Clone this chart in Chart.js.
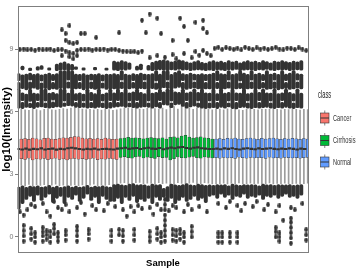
<!DOCTYPE html>
<html>
<head>
<meta charset="utf-8">
<script src="https://cdn.jsdelivr.net/npm/chart.js@4.4.1/dist/chart.umd.min.js"></script>
<style>
  html, body { margin: 0; padding: 0; background: #fff; }
  #wrap { width: 356px; height: 278px; }
</style>
</head>
<body>
<div id="wrap"><canvas id="chart" width="356" height="278"></canvas></div>
<script>
const classes = ['Cancer', 'Cirrhosis', 'Normal'];
const classCounts = [26, 25, 25];
const classColors = ['#F8766D', '#00BA38', '#619CFF'];
const yTicks = [0, 3, 6, 9];

const q3 = [
  4.70, 4.72, 4.68, 4.74, 4.71, 4.66, 4.73, 4.75, 4.70, 4.69, 4.72, 4.76, 4.74, 4.78, 4.82, 4.80, 4.74, 4.71, 4.73, 4.70, 4.72, 4.69, 4.74, 4.71, 4.68, 4.70,
  4.72, 4.75, 4.78, 4.74, 4.76, 4.73, 4.71, 4.75, 4.77, 4.74, 4.72, 4.76, 4.70, 4.78, 4.80, 4.76, 4.84, 4.88, 4.79, 4.74, 4.77, 4.80, 4.76, 4.73, 4.70,
  4.70, 4.72, 4.69, 4.73, 4.71, 4.74, 4.70, 4.68, 4.72, 4.75, 4.71, 4.69, 4.73, 4.70, 4.72, 4.74, 4.71, 4.69, 4.72, 4.70, 4.73, 4.71, 4.68, 4.72, 4.70
];
const median = [
  4.22, 4.20, 4.24, 4.19, 4.23, 4.21, 4.25, 4.20, 4.22, 4.24, 4.19, 4.23, 4.21, 4.26, 4.28, 4.25, 4.22, 4.20, 4.23, 4.21, 4.24, 4.20, 4.22, 4.23, 4.21, 4.20,
  4.24, 4.26, 4.28, 4.23, 4.25, 4.27, 4.22, 4.26, 4.28, 4.24, 4.23, 4.27, 4.21, 4.25, 4.29, 4.26, 4.30, 4.32, 4.27, 4.24, 4.28, 4.30, 4.26, 4.24, 4.22,
  4.22, 4.24, 4.21, 4.25, 4.23, 4.26, 4.22, 4.20, 4.24, 4.26, 4.23, 4.21, 4.25, 4.22, 4.24, 4.26, 4.23, 4.21, 4.24, 4.22, 4.25, 4.23, 4.20, 4.24, 4.22
];
const q1 = [
  3.76, 3.72, 3.78, 3.70, 3.75, 3.73, 3.77, 3.71, 3.74, 3.78, 3.72, 3.75, 3.70, 3.74, 3.77, 3.73, 3.76, 3.72, 3.74, 3.78, 3.71, 3.75, 3.73, 3.77, 3.74, 3.72,
  3.82, 3.85, 3.80, 3.78, 3.84, 3.86, 3.79, 3.83, 3.81, 3.77, 3.85, 3.80, 3.82, 3.70, 3.76, 3.84, 3.81, 3.79, 3.83, 3.86, 3.80, 3.78, 3.84, 3.82, 3.79,
  3.80, 3.78, 3.82, 3.79, 3.81, 3.77, 3.83, 3.80, 3.78, 3.82, 3.79, 3.81, 3.80, 3.77, 3.83, 3.79, 3.81, 3.78, 3.82, 3.80, 3.79, 3.81, 3.78, 3.80, 3.82
];
const whiskerHigh = [
  6.12, 6.10, 6.08, 6.14, 6.11, 6.06, 6.13, 6.15, 6.10, 6.09, 6.12, 6.16, 6.14, 6.18, 6.22, 6.20, 6.14, 6.11, 6.13, 6.10, 6.12, 6.09, 6.14, 6.11, 6.08, 6.10,
  6.15, 6.18, 6.20, 6.16, 6.18, 6.14, 6.12, 6.17, 6.19, 6.16, 6.12, 6.18, 6.11, 6.28, 6.26, 6.14, 6.28, 6.30, 6.20, 6.12, 6.18, 6.22, 6.16, 6.12, 6.10,
  6.12, 6.14, 6.10, 6.15, 6.12, 6.17, 6.10, 6.08, 6.13, 6.16, 6.12, 6.10, 6.14, 6.12, 6.13, 6.16, 6.12, 6.10, 6.13, 6.11, 6.15, 6.12, 6.09, 6.13, 6.11
];
const whiskerLow = [
  2.48, 2.45, 2.52, 2.44, 2.50, 2.47, 2.51, 2.45, 2.48, 2.53, 2.46, 2.49, 2.44, 2.47, 2.50, 2.46, 2.50, 2.46, 2.48, 2.53, 2.45, 2.49, 2.47, 2.51, 2.48, 2.46,
  2.58, 2.60, 2.56, 2.54, 2.60, 2.62, 2.55, 2.58, 2.57, 2.52, 2.61, 2.56, 2.58, 2.40, 2.48, 2.60, 2.57, 2.54, 2.58, 2.62, 2.56, 2.54, 2.60, 2.58, 2.55,
  2.56, 2.54, 2.58, 2.55, 2.57, 2.53, 2.59, 2.56, 2.54, 2.58, 2.55, 2.57, 2.56, 2.53, 2.59, 2.55, 2.57, 2.54, 2.58, 2.56, 2.55, 2.57, 2.54, 2.56, 2.58
];

// dense outlier stretches (overlapping points) per sample: [low, high] or [low, high, low2, high2]
const bandA = [
  [6.2,6.44,6.52,6.9],[6.18,7.1],[6.16,6.46,6.54,6.92],[6.22,6.86],[6.2,6.42,6.5,7.1],[6.16,6.9],[6.22,6.46,6.54,6.88],[6.24,7.1],[6.2,6.44,6.52,7.1],[6.18,6.9],[6.2,6.48,6.56,6.94],[6.24,6.88],[6.22,7.1],[6.26,6.44,6.52,7.1],[6.3,6.9],[6.28,7.1],[6.22,6.46,6.54,6.88],[6.2,6.92],[6.22,6.44,6.52,6.86],[6.18,7.1],[6.2,6.46,6.54,6.94],[6.18,6.88],[6.22,7.1],[6.2,6.44,6.52,6.86],[6.16,6.92],[6.18,6.46,6.54,7.1],
  [6.22,6.92],[6.24,6.46,6.54,7.1],[6.26,6.94],[6.22,7.1],[6.24,6.44,6.52,6.92],[6.2,6.96],[6.18,6.46,6.54,7.1],[6.22,6.94],[6.24,6.88],[6.22,6.44,6.52,7.1],[6.18,6.9],[6.24,6.94],[6.18,6.46,6.54,7.1],[6.34,6.96],[6.32,7.1],[6.2,6.44,6.52,7.1],[6.34,6.96],[6.36,6.94],[6.26,7.1],[6.18,6.46,6.54,6.92],[6.24,6.96],[6.28,7.1],[6.22,6.44,6.52,6.94],[6.18,7.1],[6.16,6.92],
  [6.18,6.44,6.52,6.9],[6.2,7.1],[6.16,6.46,6.54,6.88],[6.22,7.1],[6.18,6.9],[6.24,6.44,6.52,6.94],[6.16,7.1],[6.14,6.46,6.54,6.92],[6.2,6.9],[6.22,7.1],[6.18,6.44,6.52,6.88],[6.16,6.92],[6.2,7.1],[6.18,6.46,6.54,6.94],[6.2,7.1],[6.22,6.92],[6.18,6.44,6.52,6.9],[6.16,7.1],[6.2,6.88],[6.18,6.46,6.54,6.92],[6.22,7.1],[6.18,6.94],[6.16,6.44,6.52,6.88],[6.2,7.1],[6.18,6.9]
];
const bandB = [
  [7.1,7.8],[7.08,7.42,7.5,7.84],[7.12,7.78],[7.06,7.82],[7.1,7.44,7.52,7.86],[7.14,7.8],[7.08,7.84],[7.1,7.4,7.48,7.78],[7.12,7.82],[7.06,7.86],[7.1,7.42,7.5,7.8],[7.08,7.84],[7.12,7.98],[7.1,7.98],[7.14,7.44,7.52,7.98],[7.08,7.98],[7.1,7.82],[7.12,7.42,7.5,7.8],[7.06,7.84],[7.1,7.78],[7.12,7.44,7.52,7.82],[7.08,7.8],[7.1,7.84],[7.14,7.4,7.48,7.78],[7.08,7.82],[7.1,7.8],
  [7.1,7.84],[7.08,7.8],[7.12,7.44,7.52,7.98],[7.06,7.82],[7.1,7.78],[7.14,7.42,7.5,7.84],[7.08,7.8],[7.12,7.86],[7.1,7.44,7.52,7.82],[7.06,7.8],[7.12,7.84],[7.08,7.4,7.48,7.98],[7.1,7.82],[7.16,7.98],[7.12,7.44,7.52,7.98],[7.08,7.8],[7.14,7.9],[7.18,7.98],[7.1,7.42,7.5,7.84],[7.08,7.8],[7.12,7.86],[7.14,7.44,7.52,7.82],[7.1,7.8],[7.08,7.84],[7.1,7.42,7.5,7.8],
  [7.1,7.82],[7.08,7.86],[7.12,7.42,7.5,7.98],[7.06,7.84],[7.1,7.82],[7.14,7.44,7.52,7.98],[7.08,7.8],[7.1,7.84],[7.12,7.4,7.48,7.98],[7.06,7.86],[7.1,7.8],[7.12,7.44,7.52,7.98],[7.08,7.82],[7.1,7.86],[7.14,7.42,7.5,7.8],[7.08,7.98],[7.1,7.82],[7.12,7.44,7.52,7.86],[7.06,7.8],[7.1,7.98],[7.12,7.42,7.5,7.82],[7.08,7.86],[7.1,7.98],[7.14,7.44,7.52,7.84],[7.1,7.82]
];
const bandC = [
  [8.0,8.14],null,[8.02,8.2],null,[7.98,8.1],null,[8.0,8.18],[8.04,8.22],null,[8.0,8.12],null,[7.98,8.3],[8.0,8.36],[8.02,8.4],[7.98,8.32],[8.0,8.28],[8.04,8.16],null,[8.0,8.12],null,null,[8.02,8.14],null,null,[8.0,8.1],null,
  [8.0,8.44],[7.98,8.4],[8.02,8.46],[8.0,8.42],[8.04,8.36],null,[8.0,8.2],[8.02,8.3],null,[8.0,8.24],[7.98,8.38],[8.0,8.44],[8.02,8.48],[8.0,8.5],[7.98,8.46],[8.02,8.4],[8.0,8.44],[8.04,8.5],[8.0,8.46],[8.02,8.4],[7.98,8.36],[8.0,8.42],[8.02,8.46],[8.0,8.38],[7.98,8.34],
  [8.0,8.42],[7.98,8.46],[8.02,8.4],[8.0,8.44],[7.98,8.38],[8.02,8.46],[8.0,8.4],[8.04,8.44],[7.98,8.36],[8.0,8.42],[8.02,8.46],[8.0,8.4],[7.98,8.44],[8.02,8.38],[8.0,8.46],[8.04,8.42],[8.0,8.36],[7.98,8.44],[8.02,8.4],[8.0,8.46],[8.02,8.42],[7.98,8.38],[8.0,8.44],[8.02,8.4],[8.0,8.46]
];
const lowBand = [
  [1.45,2.42],[1.35,2.4],[1.6,2.46],[1.8,2.38],[1.95,2.44],[1.7,2.42],[2.0,2.46],[1.75,2.4],[1.9,2.42],[2.05,2.48],[1.65,2.4],[1.85,2.44],[1.95,2.38],[1.6,2.42],[1.9,2.46],[1.8,2.4],[2.0,2.44],[1.7,2.4],[1.85,2.42],[2.05,2.48],[1.75,2.4],[1.9,2.44],[1.6,2.42],[1.95,2.46],[1.8,2.42],[1.7,2.4],
  [1.7,2.52],[1.85,2.54],[1.6,2.5],[1.9,2.48],[1.75,2.54],[1.95,2.56],[1.65,2.5],[1.8,2.52],[1.7,2.5],[1.85,2.46],[1.6,2.54],[1.9,2.5],[1.75,2.52],[1.9,2.34],[1.7,2.42],[1.85,2.54],[1.6,2.5],[1.75,2.48],[1.9,2.52],[1.7,2.56],[1.8,2.5],[1.95,2.48],[1.75,2.54],[1.85,2.52],[1.65,2.48],
  [1.95,2.5],[2.0,2.48],[1.85,2.52],[2.05,2.5],[1.9,2.52],[2.0,2.46],[1.8,2.54],[1.95,2.5],[1.9,2.48],[2.05,2.52],[1.85,2.5],[1.95,2.52],[1.9,2.5],[2.0,2.46],[1.8,2.54],[1.95,2.5],[1.9,2.52],[2.0,2.48],[1.85,2.52],[1.95,2.5],[2.05,2.5],[1.9,2.52],[1.95,2.48],[1.85,2.5],[2.0,2.52]
];
// row of single outliers near 9
const row9 = [
  9.0, 9.02, 8.98, 9.0, 8.96, 9.02, 8.98, 9.0, 9.02, 8.95, 8.98, 9.0, 8.92, 8.85, 8.8, 8.95, 9.0, 8.98, 9.02, 8.96, 9.0, 8.98, 9.02, 8.97, 9.0, 9.0,
  8.95, 8.92, 8.9, 8.88, 8.9, 8.85, 8.92, null, 8.6, null, 8.7, null, 8.62, null, 8.75, 8.55, null, 8.8, null, 8.6, 8.9, 8.72, 8.95, 8.8, 8.7,
  9.05, 9.1, 9.0, 9.08, 9.04, 9.0, 9.06, 8.98, 9.1, 9.04, 9.0, 9.08, 9.02, 9.06, 9.0, 9.04, 9.1, 9.02, 8.98, 9.06, 9.04, 9.0, 9.08, 9.02, 8.95
];
// other single outliers [sample, value]
const extraOutliers = [
  [12,9.94],[13,9.76],[14,10.14],[13,9.43],[14,9.33],[15,9.28],[16,9.33],[17,9.76],[18,9.76],[21,9.57],[27,9.8],
  [12,8.7],[14,8.65],[15,8.55],[16,8.7],
  [33,10.4],[34,9.8],[35,10.7],[37,10.5],[38,9.76],[41,9.43],[43,10.5],[44,10.1],[45,9.43],[47,10.3],[49,10.4],[49,10.0],[50,9.8],
  [1,1.2],[2,1.05],[3,1.3],[4,1.55],[5,1.45],[7,1.6],[8,1.2],[9,1.0],[10,1.7],[11,1.4],[12,1.3],[13,1.55],[14,1.2],[16,1.4],[17,1.65],[18,1.1],[20,1.5],[21,1.3],[23,1.25],[24,1.6],[26,1.45],
  [28,1.3],[29,1.0],[30,1.45],[31,1.2],[32,1.5],[33,1.35],[35,1.4],[36,1.1],[37,1.55],[38,1.3],[40,1.25],[41,1.5],[42,1.4],[44,1.2],[45,1.55],[46,1.3],[48,1.45],[50,1.2],
  [53,1.6],[55,1.4],[56,1.7],[58,1.5],[59,1.25],[60,1.6],[62,1.45],[63,1.7],[65,1.3],[66,1.55],[68,1.2],[69,1.5],[70,0.8],[72,1.4],[73,1.3],[75,1.6]
];
// stacks of outliers near zero [sample, values...]
const zeroStacks = [
  [2,-0.2,0.05,0.3,0.55],[4,-0.1,0.15,0.4],[5,-0.25,0.0,0.2],[7,-0.2,0.05,0.25,0.45],[8,-0.1,0.1,0.3],[9,-0.25,0.0,0.25],[10,0.15,0.4,0.6],[11,-0.2,0.0,0.2],[13,-0.15,0.1,0.3],[16,-0.2,0.05,0.3,0.5],[19,-0.1,0.15,0.35],[25,-0.2,0.05,0.3],
  [27,0.1,0.35],[28,-0.2,0.05,0.3],[31,-0.15,0.1,0.35],[35,-0.2,0.0,0.25],[37,-0.1,0.15,0.4],[38,-0.25,0.0,0.2],[39,-0.2,0.05,0.3,0.55,0.8,1.05,1.3,1.55,1.8],[41,-0.15,0.1,0.35],[42,-0.2,0.05,0.3],[43,-0.1,0.15,0.35],[44,-0.25,0.0,0.2],[46,0.0,0.25,0.5],
  [53,-0.25,0.0,0.2],[54,-0.25,0.0,0.2],[56,-0.25,0.0,0.2],[58,-0.25,0.0,0.2],[68,0.0,0.25,0.45],[69,-0.2,0.0,0.2],[72,-0.3,-0.05,0.2,0.45,0.7,0.9],[76,-0.15,0.1,0.35]
];

const sampleClass = [];
classCounts.forEach((n, c) => { for (let k = 0; k < n; k++) sampleClass.push(c); });
const sampleX = sampleClass.map((c, i) => i + 1);

const dark = '#333333';
const runs = [];
[bandA, bandB, bandC, lowBand].forEach((band) => {
  band.forEach((r, i) => {
    if (!r) return;
    for (let k = 0; k < r.length; k += 2) runs.push({ x: sampleX[i], y: [r[k], r[k + 1]] });
  });
});

const points = [];
row9.forEach((v, i) => { if (v !== null) points.push({ x: sampleX[i], y: v }); });
extraOutliers.forEach(([s, v]) => points.push({ x: s, y: v }));
zeroStacks.forEach(([s, ...vals]) => vals.forEach((v) => points.push({ x: s, y: v })));

// outlier glyph: slightly tall dot, as in the reference
const dot = document.createElement('canvas');
dot.width = 4; dot.height = 5;
(() => {
  const c = dot.getContext('2d');
  c.fillStyle = dark;
  c.beginPath();
  c.ellipse(2, 2.5, 1.8, 2.4, 0, 0, Math.PI * 2);
  c.fill();
})();

const borderPlugin = {
  id: 'panelBorder',
  afterDraw(chart) {
    const { ctx, chartArea: a } = chart;
    ctx.save();
    ctx.strokeStyle = '#7f7f7f';
    ctx.lineWidth = 1;
    ctx.strokeRect(Math.round(a.left) + 0.5, Math.round(a.top) + 0.5, Math.round(a.right - a.left) - 1, Math.round(a.bottom - a.top) - 1);
    ctx.restore();
  }
};

function narrowText(ctx, text, x, y, size, sx, color) {
  ctx.save();
  ctx.translate(x, y);
  ctx.scale(sx, 1);
  ctx.fillStyle = color;
  ctx.font = size + 'px "Liberation Sans", Arial, sans-serif';
  ctx.textBaseline = 'middle';
  ctx.fillText(text, 0, 0);
  ctx.restore();
}

const legendPlugin = {
  id: 'boxLegend',
  afterDraw(chart) {
    const { ctx } = chart;
    narrowText(ctx, 'class', 318, 95, 10.5, 0.55, '#1a1a1a');
    const centers = [118, 140.5, 162];
    classes.forEach((name, c) => {
      const cy = centers[c];
      const x0 = 320.5, w = 8.5;
      ctx.save();
      ctx.strokeStyle = '#333';
      ctx.lineWidth = 0.6;
      ctx.beginPath();
      ctx.moveTo(x0 + w / 2, cy - 7.5); ctx.lineTo(x0 + w / 2, cy - 5);
      ctx.moveTo(x0 + w / 2, cy + 5); ctx.lineTo(x0 + w / 2, cy + 7.5);
      ctx.stroke();
      ctx.fillStyle = classColors[c];
      ctx.fillRect(x0, cy - 5, w, 10);
      ctx.strokeRect(x0, cy - 5, w, 10);
      ctx.lineWidth = 1;
      ctx.beginPath();
      ctx.moveTo(x0, cy); ctx.lineTo(x0 + w, cy);
      ctx.stroke();
      ctx.restore();
      narrowText(ctx, name, 333, cy, 9.5, 0.6, '#333');
    });
  }
};

new Chart(document.getElementById('chart'), {
  type: 'bar',
  data: {
    datasets: [
      {
        type: 'scatter',
        data: points,
        pointStyle: dot,
        pointRadius: 2,
        pointHoverRadius: 2
      },
      {
        data: runs,
        backgroundColor: dark,
        borderWidth: 0,
        borderRadius: 1.8,
        borderSkipped: false,
        barThickness: 3.3
      },
      {
        data: sampleX.map((x, i) => ({ x, y: [median[i] - 0.035, median[i] + 0.035] })),
        backgroundColor: dark,
        borderWidth: 0,
        barThickness: 2.9
      },
      {
        data: sampleX.map((x, i) => ({ x, y: [q1[i], q3[i]] })),
        backgroundColor: sampleClass.map((c) => classColors[c]),
        borderColor: '#3a3a3a',
        borderWidth: 0.5,
        borderSkipped: false,
        barThickness: 2.9
      },
      {
        data: sampleX.map((x, i) => ({ x, y: [whiskerLow[i], whiskerHigh[i]] })),
        backgroundColor: '#9c9c9c',
        borderWidth: 0,
        barThickness: 1
      }
    ]
  },
  options: {
    responsive: false,
    animation: false,
    events: [],
    layout: { padding: { left: 0, top: 5, right: 47.5, bottom: 0 } },
    plugins: {
      legend: { display: false },
      tooltip: { enabled: false }
    },
    scales: {
      x: {
        type: 'linear',
        min: 0.4,
        max: 76.6,
        offset: false,
        grid: { display: false },
        border: { display: false },
        ticks: { display: false },
        title: {
          display: true,
          text: 'Sample',
          color: '#000',
          font: { family: '"Liberation Sans", Arial, sans-serif', size: 9.5, weight: 'bold' },
          padding: { top: 0, bottom: 9 }
        },
        afterFit: (s) => { s.height = 25; }
      },
      y: {
        min: -0.77,
        max: 11.1,
        grid: { drawOnChartArea: false, drawTicks: true, tickLength: 2.5, color: '#7f7f7f' },
        border: { display: false },
        afterBuildTicks: (s) => { s.ticks = yTicks.map((v) => ({ value: v })); },
        ticks: {
          color: '#7a7a7a',
          padding: 1.5,
          font: { family: '"Liberation Sans", Arial, sans-serif', size: 7 }
        },
        title: {
          display: true,
          text: 'log10(Intensity)',
          color: '#000',
          font: { family: '"Liberation Sans", Arial, sans-serif', size: 11.5, weight: 'bold' },
          padding: { top: 0, bottom: 0 }
        },
        afterFit: (s) => { s.width = 17.5; }
      }
    }
  },
  plugins: [borderPlugin, legendPlugin]
});
</script>
</body>
</html>
